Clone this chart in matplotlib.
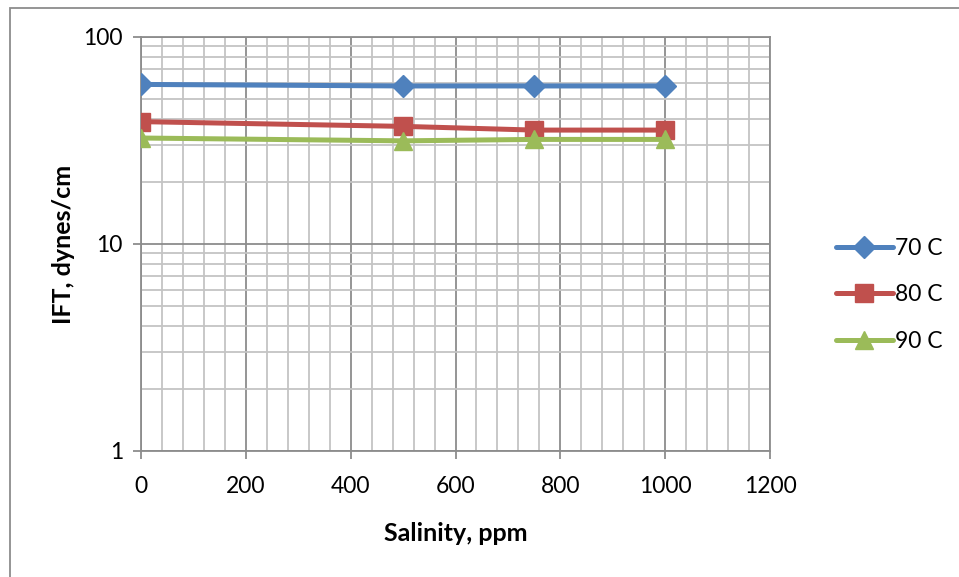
import matplotlib
matplotlib.use("Agg")
import matplotlib.pyplot as plt
from matplotlib.patches import Rectangle
from matplotlib.ticker import LogLocator, MultipleLocator, NullFormatter

plt.rcParams['font.family'] = ['Lato', 'DejaVu Sans']

salinity = [0, 500, 750, 1000]
ift_70 = [59, 58, 58, 58]
ift_80 = [39, 37, 35.5, 35.5]
ift_90 = [32.5, 31.5, 32, 32]
labels = ["70 C", "80 C", "90 C"]
colors = ["#4F81BD", "#C0504D", "#9BBB59"]
markers = ["D", "s", "^"]
sizes = [11, 13, 13]

fig = plt.figure(figsize=(9.59, 5.77), dpi=100)
ax = fig.add_axes([0.147, 0.2184, 0.656, 0.7175])

for ys, lab, c, m, ms in zip([ift_70, ift_80, ift_90], labels, colors, markers, sizes):
    ax.plot(salinity, ys, color=c, lw=3.6, marker=m, ms=ms, label=lab,
            solid_capstyle="round", zorder=3)

ax.set_yscale("log")
ax.set_ylim(1, 100)
ax.set_xlim(0, 1200)
ax.xaxis.set_major_locator(MultipleLocator(200))
ax.xaxis.set_minor_locator(MultipleLocator(40))
ax.yaxis.set_minor_locator(LogLocator(base=10, subs=range(2, 10), numticks=20))
ax.set_yticks([1, 10, 100])
ax.set_yticklabels(["1", "10", "100"])
ax.yaxis.set_minor_formatter(NullFormatter())

ax.grid(which="major", color="#8C8C8C", lw=1.3, zorder=1)
ax.grid(which="minor", color="#C4C4C4", lw=1.3, zorder=0)
for s in ax.spines.values():
    s.set_color("#8C8C8C")
    s.set_linewidth(1.3)
ax.tick_params(which="major", length=6, width=1.3, color="#8C8C8C",
               labelsize=16.5, pad=7)
ax.tick_params(axis="x", which="major", pad=12)
ax.tick_params(which="minor", length=0)

ax.set_xlabel("Salinity, ppm", fontsize=18, fontweight="bold", labelpad=18)
ax.set_ylabel("IFT, dynes/cm", fontsize=18, fontweight="bold", labelpad=6)

ax.legend(loc="center left", bbox_to_anchor=(0.862, 0.489), bbox_transform=fig.transFigure,
          frameon=False, fontsize=16.5, handlelength=2.5, handletextpad=0.1,
          labelspacing=1.1, borderaxespad=0)

fig.patches.append(Rectangle((10 / 959, -0.1), 1.2, 1.1 - 8 / 577, transform=fig.transFigure,
                             fill=False, edgecolor="#8C8C8C", lw=1.3))

fig.savefig("out.png", dpi=100)
